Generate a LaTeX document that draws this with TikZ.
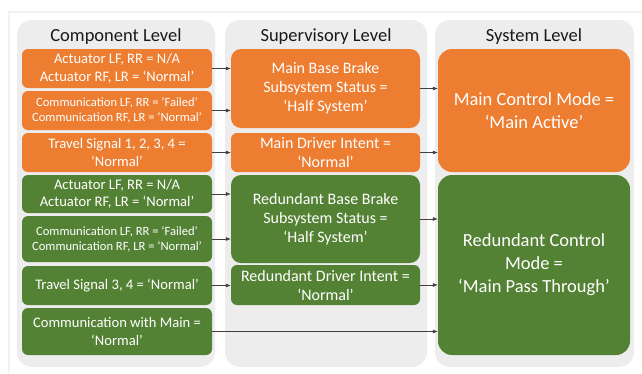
\documentclass[tikz,border=0pt]{standalone}
\usepackage{fontspec}
\setmainfont{Carlito}
\usetikzlibrary{arrows.meta}
\definecolor{boxorange}{HTML}{ED7D31}
\definecolor{boxgreen}{HTML}{548235}
\definecolor{lanegray}{HTML}{EDEDED}
\definecolor{arrowgray}{HTML}{404040}
\begin{document}
\begin{tikzpicture}[x=1pt, y=-1pt,
    lane/.style={fill=lanegray, rounded corners=15pt},
    title/.style={font=\fontsize{18.5}{20}\selectfont, text=black!90},
    compbox/.style={rounded corners=6pt, minimum width=190pt, text=white, align=center, inner sep=0pt, font=\fontsize{14.6}{17.5}\selectfont},
    smallbox/.style={compbox, font=\fontsize{12.6}{15}\selectfont},
    supbox/.style={compbox, minimum width=189pt, font=\fontsize{16}{19}\selectfont},
    bigbox/.style={compbox, rounded corners=14pt, minimum width=192pt, font=\fontsize{18.5}{23}\selectfont},
    orange/.style={fill=boxorange}, green/.style={fill=boxgreen},
    arr/.style={-{Latex[length=5pt, width=4pt]}, draw=arrowgray, line width=0.6pt}]
    % page and card
    \fill[white] (0,0) rectangle (642,373);
    \fill[black!5] (8,11) rectangle (642,373);
    \fill[white] (10,13) rectangle (642,373);
    \useasboundingbox (0,0) rectangle (642,373);
    % lanes
    \fill[lane] (17,20) rectangle (215,367);
    \fill[lane] (225,20) rectangle (427,367);
    \fill[lane] (435,20) rectangle (634,367);
    \node[title] (tcomp) at (116,37) {Component Level};
    \node[title] (tsup) at (326,37) {Supervisory Level};
    \node[title] (tsys) at (534,37) {System Level};
    % component level
    \node[compbox, orange, minimum height=39pt] (c1) at (117,68.5) {Actuator LF, RR = N/A\\Actuator RF, LR = ‘Normal’};
    \node[smallbox, orange, minimum height=39pt] (c2) at (117,110.5) {Communication LF, RR = ‘Failed’\\Communication RF, LR = ‘Normal’};
    \node[compbox, orange, minimum height=39pt] (c3) at (117,152.5) {Travel Signal 1, 2, 3, 4 =\\‘Normal’};
    \node[compbox, green, minimum height=38pt] (c4) at (117,194) {Actuator LF, RR = N/A\\Actuator RF, LR = ‘Normal’};
    \node[smallbox, green, minimum height=46pt] (c5) at (117,239) {Communication LF, RR = ‘Failed’\\Communication RF, LR = ‘Normal’};
    \node[compbox, green, minimum height=39pt] (c6) at (117,285.5) {Travel Signal 3, 4 = ‘Normal’};
    \node[compbox, green, minimum height=47pt] (c7) at (117,331.5) {Communication with Main =\\‘Normal’};
    % supervisory level
    \node[supbox, orange, minimum height=79pt, rounded corners=10pt] (s1) at (325.5,88.5) {Main Base Brake\\Subsystem Status =\\‘Half System’};
    \node[supbox, orange, minimum height=39pt] (s2) at (325.5,152.5) {Main Driver Intent =\\‘Normal’};
    \node[supbox, green, minimum height=88pt, rounded corners=10pt] (s3) at (325.5,219) {Redundant Base Brake\\Subsystem Status =\\‘Half System’};
    \node[supbox, green, minimum height=40pt] (s4) at (325.5,285) {Redundant Driver Intent =\\‘Normal’};
    % system level
    \node[bigbox, orange, minimum height=123pt] (m1) at (534,110.5) {Main Control Mode =\\‘Main Active’};
    \node[bigbox, green, minimum height=180pt] (m2) at (534,265) {Redundant Control\\Mode =\\‘Main Pass Through’};
    % connectors
    \draw[arr] (c1.east) -- (c1.east -| s1.west);
    \draw[arr] (c2.east) -- (c2.east -| s1.west);
    \draw[arr] (c3.east) -- (c3.east -| s2.west);
    \draw[arr] (c4.east) -- (c4.east -| s3.west);
    \draw[arr] (c5.east) -- (c5.east -| s3.west);
    \draw[arr] (c6.east) -- (c6.east -| s4.west);
    \draw[arr] (c7.east) -- (c7.east -| m2.west);
    \draw[arr] (s1.east) -- (s1.east -| m1.west);
    \draw[arr] (s2.east) -- (s2.east -| m1.west);
    \draw[arr] (s3.east) -- (s3.east -| m2.west);
    \draw[arr] (s4.east) -- (s4.east -| m2.west);
\end{tikzpicture}
\end{document}
